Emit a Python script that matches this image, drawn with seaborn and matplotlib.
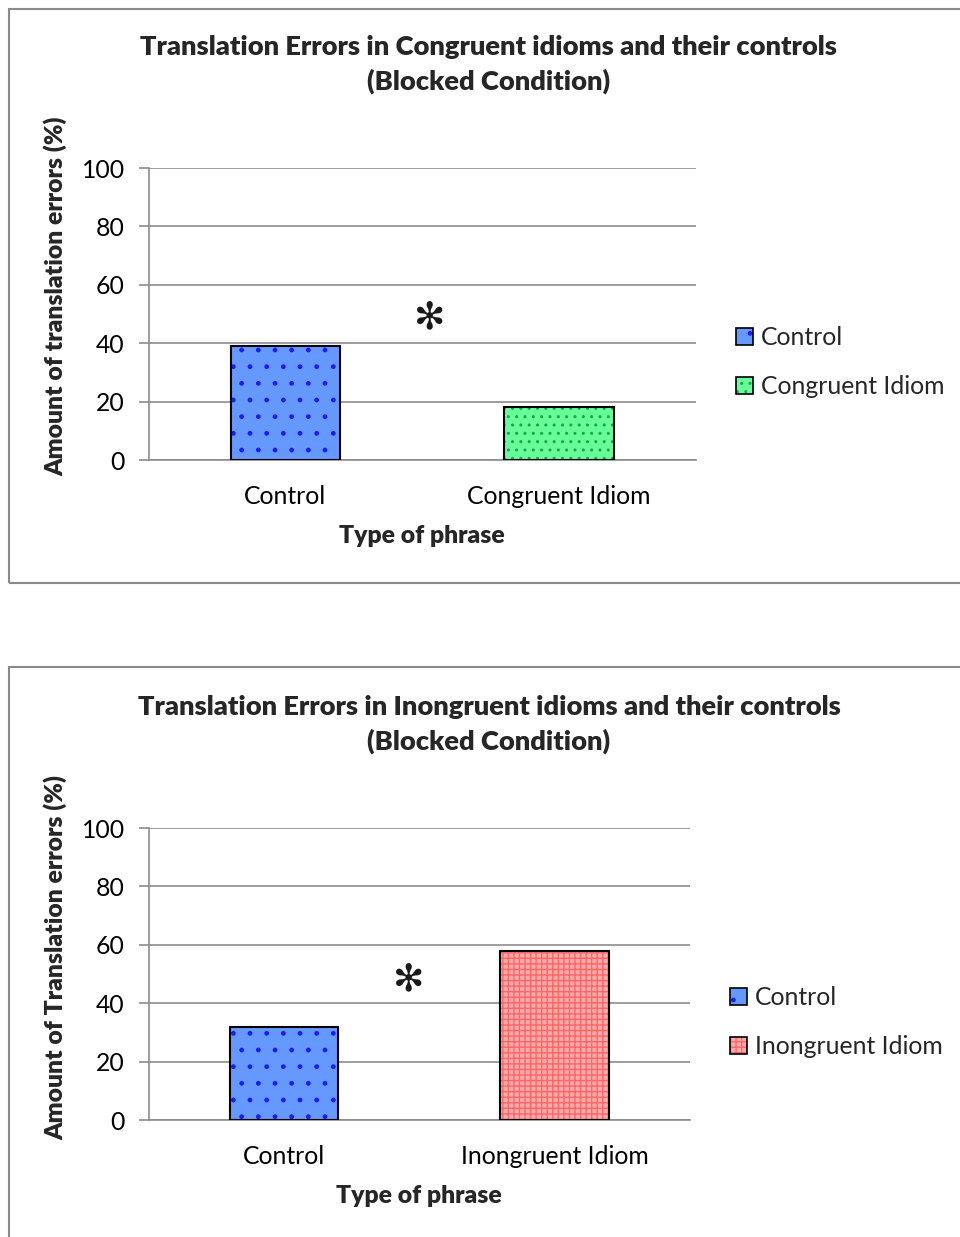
import matplotlib
matplotlib.use("Agg")
import matplotlib.pyplot as plt
import matplotlib.patches as mpatches
from matplotlib.colors import to_rgba
import seaborn as sns
import pandas as pd

# ---- data ----
top_categories = ["Control", "Congruent Idiom"]
top_values = [39, 18]
bottom_categories = ["Control", "Inongruent Idiom"]
bottom_values = [32, 58]
y_ticks = [0, 20, 40, 60, 80, 100]

top_title = "Translation Errors in Congruent idioms and their controls\n(Blocked Condition)"
bottom_title = "Translation Errors in Inongruent idioms and their controls\n(Blocked Condition)"
top_ylabel = "Amount of translation errors (%)"
bottom_ylabel = "Amount of Translation errors (%)"
xlabel = "Type of phrase"

sns.set_theme(style="white")
plt.rcParams["font.family"] = ["Lato", "DejaVu Sans"]
plt.rcParams["hatch.linewidth"] = 1.0

W, H = 960, 1237
fig = plt.figure(figsize=(W / 100, H / 100), dpi=100)

FS = 17.8
TFS = 19.6
BOLD = 800
GRID = "#8c8c8c"

styles_top = [
    dict(face="#6699ff", hatch=".", hcol="#1a1aff"),
    dict(face="#66ff99", hatch="..", hcol="#1fa346"),
]
styles_bottom = [
    dict(face="#6699ff", hatch=".", hcol="#1a1aff"),
    dict(face="#ffaaaa", hatch="+++", hcol="#ff6666"),
]


def px_axes(l, r, t, b):
    return fig.add_axes([l / W, 1 - b / H, (r - l) / W, (b - t) / H])


def frame(x0, y0, x1, y1):
    rect = mpatches.Rectangle((x0 / W, 1 - y1 / H), (x1 - x0) / W, (y1 - y0) / H,
                              transform=fig.transFigure, fill=False,
                              edgecolor="#8a8a8a", linewidth=1.5, zorder=0)
    fig.patches.append(rect)


def make_chart(ax, cats, vals, styles, title, ylabel, star_xy, title_y, legend_xy,
               ylab_xy):
    df = pd.DataFrame({"cat": cats, "val": vals})
    pal = {c: s["face"] for c, s in zip(cats, styles)}
    sns.barplot(data=df, x="cat", y="val", hue="cat", palette=pal, width=0.4,
                edgecolor="black", linewidth=1.5, legend=False, ax=ax, saturation=1,
                zorder=3)
    for p, s in zip(ax.patches, styles):
        p.set_hatch(s["hatch"])
        p._hatch_color = to_rgba(s["hcol"])
    ax.set_ylim(0, 100)
    ax.set_xlim(-0.5, 1.5)
    ax.set_yticks(y_ticks)
    ax.yaxis.grid(True, color=GRID, linewidth=1.2, zorder=0)
    ax.set_axisbelow(True)
    for side in ["top", "right"]:
        ax.spines[side].set_visible(False)
    ax.spines["left"].set_color(GRID)
    ax.spines["bottom"].set_color(GRID)
    ax.spines["left"].set_linewidth(1.2)
    ax.spines["bottom"].set_linewidth(1.2)
    ax.tick_params(axis="y", which="major", left=True, length=7, width=1.2,
                   color=GRID, labelsize=FS, pad=10)
    ax.tick_params(axis="x", bottom=False, labelsize=FS, pad=12)
    ax.set_xlabel(xlabel, fontsize=FS, fontweight=BOLD, labelpad=12)
    ax.set_ylabel(ylabel, fontsize=FS, fontweight=BOLD)
    ax.yaxis.set_label_coords(*ylab_xy)
    for lab in ax.get_xticklabels() + ax.get_yticklabels():
        lab.set_color("black")
    fig.text(489 / W, 1 - title_y / H, title, ha="center", va="center",
             fontsize=TFS, fontweight=BOLD, linespacing=1.45)
    fig.text(star_xy[0] / W, 1 - star_xy[1] / H, "\u273b", ha="center", va="center",
             fontsize=27, family="DejaVu Sans", color="#1a1a1a")
    handles = []
    for c, s in zip(cats, styles):
        h = mpatches.Patch(facecolor=s["face"], edgecolor="black", linewidth=1.2,
                           hatch=s["hatch"], label=c)
        h._hatch_color = to_rgba(s["hcol"])
        handles.append(h)
    ax.legend(handles=handles, loc="center left",
              bbox_to_anchor=(legend_xy[0] / W, 1 - legend_xy[1] / H),
              bbox_transform=fig.transFigure, frameon=False, fontsize=FS,
              handlelength=0.7, handleheight=0.7, handletextpad=0.3,
              labelspacing=1.05, borderaxespad=0, borderpad=0)


frame(9, 9, 1000, 583)
frame(9, 667, 1000, 1280)

ax1 = px_axes(148.5, 696, 168, 460)
make_chart(ax1, top_categories, top_values, styles_top, top_title, top_ylabel,
           (430, 318), 64.5, (736, 362), ((67 - 148.5) / 547.5, (460 - 296) / 292))

ax2 = px_axes(148.5, 690, 828, 1120)
make_chart(ax2, bottom_categories, bottom_values, styles_bottom, bottom_title,
           bottom_ylabel, (409, 980), 724.5, (730, 1022),
           ((67 - 148.5) / 541.5, (1120 - 957) / 292))

fig.savefig("out.png", dpi=100)
